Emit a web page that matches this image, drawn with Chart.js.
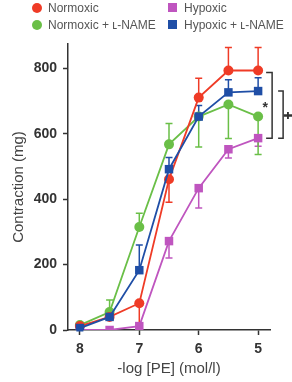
<!DOCTYPE html>
<html>
<head>
<meta charset="utf-8">
<script src="https://cdn.jsdelivr.net/npm/chart.js@4.4.1/dist/chart.umd.min.js"></script>
<style>
  html, body { margin: 0; padding: 0; background: #fff; }
  #wrap { position: relative; width: 292px; height: 382px; }
  #legend { position: absolute; left: 0; top: 0; width: 292px; height: 40px;
            font-family: "Liberation Sans", Arial, sans-serif; font-size: 12px; color: #555; }
  .item { position: absolute; height: 14px; line-height: 14px; white-space: nowrap; }
  .mark { position: absolute; left: -16px; top: 2px; width: 9px; height: 9px; }
</style>
</head>
<body>
<div id="wrap">
  <canvas id="chart" width="292" height="382"></canvas>
  <div id="legend"></div>
</div>
<script>
// -log [PE] doses
var logPE = [8, 7.5, 7, 6.5, 6, 5.5, 5];

// mean contraction (mg)
var normoxic      = [12, 40, 82, 461, 711, 794, 794];
var hypoxic       = [0, 0, 12, 272, 434, 553, 587];
var normoxicLN    = [15, 55, 315, 568, 653, 690, 653];
var hypoxicLN     = [6, 40, 183, 492, 653, 727, 731];

// error bars (mg); positive = drawn upwards, negative = drawn downwards
var normoxicErr   = [5, 8, -70, -70, 59, 70, 70];
var hypoxicErr    = [0, 0, 5, -52, -61, -27, -25];
var normoxicLNErr = [5, 37, 42, 64, -93, -104, -116];
var hypoxicLNErr  = [-8, 18, 77, 36, 34, 39, 41];

var xTicks = [8, 7, 6, 5];
var yTicks = [0, 200, 400, 600, 800];

var red = '#ef3b26', magenta = '#bf55bf', green = '#6abf47', blue = '#1f4ea6';

function pts(vals) {
    return logPE.map(function (x, i) { return { x: x, y: vals[i] }; });
}

function series(label, vals, err, color, shape, order) {
    return {
        label: label,
        data: pts(vals),
        err: err,
        borderColor: color,
        backgroundColor: color,
        pointStyle: shape,
        pointRadius: shape === 'rect' ? 6 : 5,
        pointBorderWidth: 0,
        borderWidth: 1.8,
        showLine: true,
        order: order
    };
}

var datasets = [
    series('Normoxic', normoxic, normoxicErr, red, 'circle', 2),
    series('Hypoxic', hypoxic, hypoxicErr, magenta, 'rect', 4),
    series('Normoxic + \u029f-NAME', normoxicLN, normoxicLNErr, green, 'circle', 3),
    series('Hypoxic + \u029f-NAME', hypoxicLN, hypoxicLNErr, blue, 'rect', 1)
];

// legend (2 columns)
var legendPos = [[48, 1], [184, 1], [48, 18], [184, 18]];
var legend = document.getElementById('legend');
datasets.forEach(function (ds, i) {
    var d = document.createElement('div');
    d.className = 'item';
    d.style.left = legendPos[i][0] + 'px';
    d.style.top = legendPos[i][1] + 'px';
    var m = document.createElement('span');
    m.className = 'mark';
    m.style.background = ds.borderColor;
    if (ds.pointStyle === 'circle') {
        m.style.borderRadius = '50%';
        m.style.width = '10px'; m.style.height = '10px'; m.style.top = '2px';
    }
    d.appendChild(m);
    d.appendChild(document.createTextNode(ds.label));
    legend.appendChild(d);
});

var errorBars = {
    id: 'errorBars',
    beforeDatasetsDraw: function (chart) {
        var ctx = chart.ctx, ys = chart.scales.y;
        ctx.save();
        chart.data.datasets.forEach(function (ds, di) {
            var meta = chart.getDatasetMeta(di);
            ctx.strokeStyle = ds.borderColor;
            ctx.lineWidth = 1.5;
            meta.data.forEach(function (p, i) {
                var e = ds.err[i];
                if (!e) return;
                var yEnd = ys.getPixelForValue(ds.data[i].y + e);
                ctx.beginPath();
                ctx.moveTo(p.x, p.y);
                ctx.lineTo(p.x, yEnd);
                ctx.moveTo(p.x - 3.5, yEnd);
                ctx.lineTo(p.x + 3.5, yEnd);
                ctx.stroke();
            });
        });
        ctx.restore();
    }
};

var brackets = {
    id: 'brackets',
    afterDraw: function (chart) {
        var ctx = chart.ctx, xs = chart.scales.x, ys = chart.scales.y;
        var x5 = xs.getPixelForValue(5);
        var yBot = ys.getPixelForValue(hypoxic[6]);
        ctx.save();
        ctx.strokeStyle = '#333';
        ctx.lineWidth = 1.5;
        // normoxic vs hypoxic
        var y1 = ys.getPixelForValue(normoxic[6]) + 2;
        ctx.beginPath();
        ctx.moveTo(x5 + 8, y1); ctx.lineTo(x5 + 14, y1);
        ctx.lineTo(x5 + 14, yBot); ctx.lineTo(x5 + 8, yBot);
        ctx.stroke();
        // hypoxic + L-NAME vs hypoxic
        var y2 = ys.getPixelForValue(hypoxicLN[6]);
        ctx.beginPath();
        ctx.moveTo(x5 + 20, y2); ctx.lineTo(x5 + 25, y2);
        ctx.lineTo(x5 + 25, yBot); ctx.lineTo(x5 + 20, yBot);
        ctx.stroke();
        ctx.fillStyle = '#333';
        ctx.font = 'bold 14px "Liberation Sans", Arial, sans-serif';
        ctx.textAlign = 'center';
        ctx.textBaseline = 'middle';
        ctx.fillText('*', x5 + 7, (y1 + yBot) / 2 + 3);
        ctx.translate(x5 + 31, (y2 + yBot) / 2 + 1);
        ctx.rotate(Math.PI / 2);
        ctx.font = 'bold 16px "DejaVu Sans", sans-serif';
        ctx.fillText('\u2021', 0, 0);
        ctx.restore();
    }
};

var font = '"Liberation Sans", Arial, sans-serif';

new Chart(document.getElementById('chart'), {
    type: 'scatter',
    data: { datasets: datasets },
    options: {
        responsive: false,
        animation: false,
        devicePixelRatio: 1,
        layout: { padding: { top: 44, right: 22, left: 0, bottom: 0 } },
        plugins: { legend: { display: false }, tooltip: { enabled: false } },
        scales: {
            x: {
                type: 'linear',
                reverse: true,
                min: 4.8,
                max: 8.2,
                afterBuildTicks: function (s) { s.ticks = xTicks.map(function (v) { return { value: v }; }); },
                afterFit: function (s) { s.height = 52; },
                grid: { drawOnChartArea: false, tickLength: 5, tickWidth: 1.5, color: '#333' },
                border: { color: '#333', width: 1.5 },
                ticks: { padding: 6, color: '#333', font: { family: font, size: 14, weight: 'bold' } },
                title: { display: true, text: '-log [PE] (mol/l)', color: '#444', padding: { top: 0, bottom: 4 },
                         font: { family: font, size: 15 } }
            },
            y: {
                min: 0,
                max: 875,
                afterBuildTicks: function (s) { s.ticks = yTicks.map(function (v) { return { value: v }; }); },
                afterFit: function (s) { s.width = 68; },
                grid: { drawOnChartArea: false, tickLength: 5, tickWidth: 1.5, color: '#333' },
                border: { color: '#333', width: 1.5 },
                ticks: { padding: 6, color: '#333', font: { family: font, size: 14, weight: 'bold' } },
                title: { display: true, text: 'Contraction (mg)', color: '#444', padding: { top: 10, bottom: 0 },
                         font: { family: font, size: 15 } }
            }
        }
    },
    plugins: [errorBars, brackets]
});
</script>
</body>
</html>
